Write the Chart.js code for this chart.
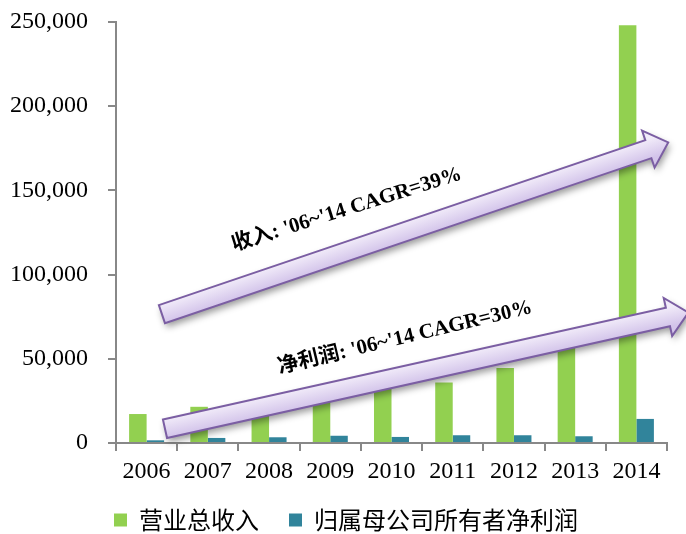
<!DOCTYPE html>
<html>
<head>
<meta charset="utf-8">
<script src="https://cdn.jsdelivr.net/npm/chart.js@4/dist/chart.umd.min.js"></script>
<style>
  html, body { margin: 0; padding: 0; background: #fff; }
  #wrap { width: 686px; height: 534px; position: relative; }
</style>
</head>
<body>
<div id="wrap"><canvas id="c"></canvas></div>
<script>
// Annual figures (RMB million)
const years = ['2006', '2007', '2008', '2009', '2010', '2011', '2012', '2013', '2014'];
const revenue = [17200, 21500, 19500, 26000, 33000, 36000, 44500, 58000, 248000];
const netProfit = [1600, 3000, 3400, 4300, 3600, 4600, 4600, 4000, 14300];
const yTicks = [0, 50000, 100000, 150000, 200000, 250000];
const seriesNames = ['营业总收入', '归属母公司所有者净利润'];

// Growth arrows: start/end as [category position, value], with their captions
const growthArrows = [
  { from: [0.25, 76500], to: [8.52, 178500], text: "收入: '06~'14 CAGR=39%", at: [3.27, 138500], angle: -17.5 },
  { from: [0.30, 8500], to: [8.85, 77500], text: "净利润: '06~'14 CAGR=30%", at: [4.22, 62500], angle: -13.5 }
];

const GREEN = '#92d050';
const TEAL = '#31849b';

function drawArrow(ctx, x1, y1, x2, y2) {
  const shaft = 19, headW = 39, headL = 21;
  const ang = Math.atan2(y2 - y1, x2 - x1);
  const len = Math.hypot(x2 - x1, y2 - y1);
  ctx.save();
  ctx.translate(x1, y1);
  ctx.rotate(ang);
  ctx.beginPath();
  ctx.moveTo(0, -shaft / 2);
  ctx.lineTo(len - headL, -shaft / 2);
  ctx.lineTo(len - headL, -headW / 2);
  ctx.lineTo(len, 0);
  ctx.lineTo(len - headL, headW / 2);
  ctx.lineTo(len - headL, shaft / 2);
  ctx.lineTo(0, shaft / 2);
  ctx.closePath();
  const g = ctx.createLinearGradient(0, -shaft / 2, 0, shaft / 2);
  g.addColorStop(0, '#f1ebf9');
  g.addColorStop(1, '#d3c4ea');
  ctx.fillStyle = g;
  ctx.shadowColor = 'rgba(0,0,0,0.4)';
  ctx.shadowBlur = 7;
  ctx.shadowOffsetX = 2;
  ctx.shadowOffsetY = 4;
  ctx.fill();
  ctx.shadowColor = 'transparent';
  ctx.lineWidth = 2;
  ctx.lineJoin = 'miter';
  ctx.strokeStyle = '#7b5ea3';
  ctx.stroke();
  ctx.restore();
}

const growthArrowPlugin = {
  id: 'growthArrows',
  afterDatasetsDraw(chart) {
    const { ctx, scales: { x, y } } = chart;
    growthArrows.forEach(a => {
      drawArrow(ctx,
        x.getPixelForValue(a.from[0]), y.getPixelForValue(a.from[1]),
        x.getPixelForValue(a.to[0]), y.getPixelForValue(a.to[1]));
    });
    growthArrows.forEach(a => {
      ctx.save();
      ctx.translate(x.getPixelForValue(a.at[0]), y.getPixelForValue(a.at[1]));
      ctx.rotate(a.angle * Math.PI / 180);
      ctx.font = 'bold 21px "Liberation Serif", "Noto Sans CJK SC", serif';
      ctx.fillStyle = '#000';
      ctx.textAlign = 'center';
      ctx.textBaseline = 'middle';
      ctx.fillText(a.text, 0, 0);
      ctx.restore();
    });
  }
};

Chart.defaults.font.family = '"Liberation Serif", "Times New Roman", serif';
Chart.defaults.color = '#000';

new Chart(document.getElementById('c'), {
  type: 'bar',
  data: {
    labels: years,
    datasets: [
      { label: seriesNames[0], data: revenue, backgroundColor: GREEN },
      { label: seriesNames[1], data: netProfit, backgroundColor: TEAL }
    ]
  },
  options: {
    responsive: true,
    maintainAspectRatio: false,
    animation: false,
    categoryPercentage: 0.572,
    barPercentage: 1.0,
    layout: { padding: { top: 22, right: 0, left: 6, bottom: 0 } },
    plugins: {
      tooltip: { enabled: false },
      legend: {
        position: 'bottom',
        maxHeight: 56,
        labels: {
          boxWidth: 13,
          boxHeight: 13,
          padding: 30,
          color: '#000',
          font: { family: '"Noto Sans CJK SC", sans-serif', size: 24 }
        }
      }
    },
    scales: {
      x: {
        afterFit(scale) { scale.height = 35; },
        grid: { display: true, offset: true, drawOnChartArea: false, drawTicks: true, tickLength: 8, color: '#888', lineWidth: 2 },
        border: { display: true, color: '#888', width: 2 },
        ticks: { font: { size: 24 }, padding: 6, color: '#000' }
      },
      y: {
        min: 0,
        max: 250000,
        afterBuildTicks(scale) { scale.ticks = yTicks.map(v => ({ value: v })); },
        afterFit(scale) {
          scale.width = 110;
          scale.paddingTop = 0;
          scale.paddingBottom = 0;
        },
        grid: { display: true, drawOnChartArea: false, drawTicks: true, tickLength: 8, color: '#888', lineWidth: 2 },
        border: { display: true, color: '#888', width: 2 },
        ticks: {
          font: { size: 24 },
          padding: 20,
          color: '#000',
          callback: v => v.toLocaleString('en-US')
        }
      },
      // empty margin on the right of the plot
      yMargin: {
        position: 'right',
        display: true,
        grid: { display: false, drawTicks: false },
        border: { display: false },
        ticks: { display: false },
        afterFit(scale) { scale.width = 19; }
      }
    }
  },
  plugins: [growthArrowPlugin]
});
</script>
</body>
</html>
